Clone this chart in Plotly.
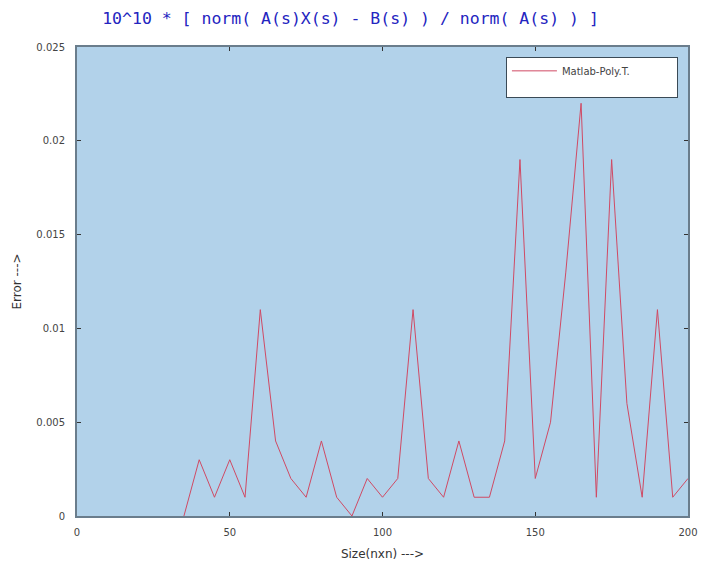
import plotly.graph_objects as go

sizes = [35, 40, 45, 50, 55, 60, 65, 70, 75, 80, 85, 90, 95, 100, 105, 110, 115, 120,
         125, 130, 135, 140, 145, 150, 155, 160, 165, 170, 175, 180, 185, 190, 195, 200]
errors = [0.0, 0.003, 0.001, 0.003, 0.001, 0.011, 0.004, 0.002, 0.001, 0.004, 0.001, 0.0,
          0.002, 0.001, 0.002, 0.011, 0.002, 0.001, 0.004, 0.001, 0.001, 0.004, 0.019, 0.002,
          0.005, 0.013, 0.022, 0.001, 0.019, 0.006, 0.001, 0.011, 0.001, 0.002]
series_name = "Matlab-Poly.T."
title_text = "10^10 * [ norm( A(s)X(s) - B(s) ) / norm( A(s) ) ]"
x_ticks = [0, 50, 100, 150, 200]
y_ticks = [0, 0.005, 0.01, 0.015, 0.02, 0.025]
y_tick_labels = ["0", "0.005", "0.01", "0.015", "0.02", "0.025"]

legend_label = series_name + "\u00a0" * 13 + "<br>\u00a0"

fig = go.Figure()
fig.add_trace(go.Scatter(x=sizes, y=errors, mode="lines", name=legend_label,
                         line=dict(color="#d04a64", width=1)))

axis_common = dict(showline=True, linecolor="#6a7d8c", linewidth=2, mirror="allticks",
                   ticks="inside", ticklen=4, tickwidth=1, tickcolor="#333333",
                   showgrid=False, zeroline=False, automargin=False,
                   tickfont=dict(family="DejaVu Sans", size=10, color="#444444"))

fig.update_layout(
    width=701, height=563,
    margin=dict(l=77, r=13, t=47, b=47),
    paper_bgcolor="white",
    plot_bgcolor="#b2d2ea",
    title=dict(text=title_text, x=0.5, xanchor="center", y=0.968, yanchor="middle",
               font=dict(family="DejaVu Sans Mono", size=16.5, color="#2424c0")),
    showlegend=True,
    legend=dict(x=0.702, y=0.979, xanchor="left", yanchor="top", valign="top",
                bgcolor="white", bordercolor="#3a4a56", borderwidth=1,
                font=dict(family="DejaVu Sans", size=10, color="#444444"),
                itemwidth=45),
    xaxis=dict(range=[0, 200], tickvals=x_ticks, ticklabelstandoff=6,
               title=dict(text="Size(nxn) --->", standoff=13,
                          font=dict(family="DejaVu Sans", size=12, color="#333333")),
               **axis_common),
    yaxis=dict(range=[0, 0.025], tickvals=y_ticks, ticktext=y_tick_labels,
               ticklabelstandoff=8,
               title=dict(text="Error --->", standoff=12,
                          font=dict(family="DejaVu Sans", size=12, color="#333333")),
               **axis_common),
)

fig.write_html("out.html")
